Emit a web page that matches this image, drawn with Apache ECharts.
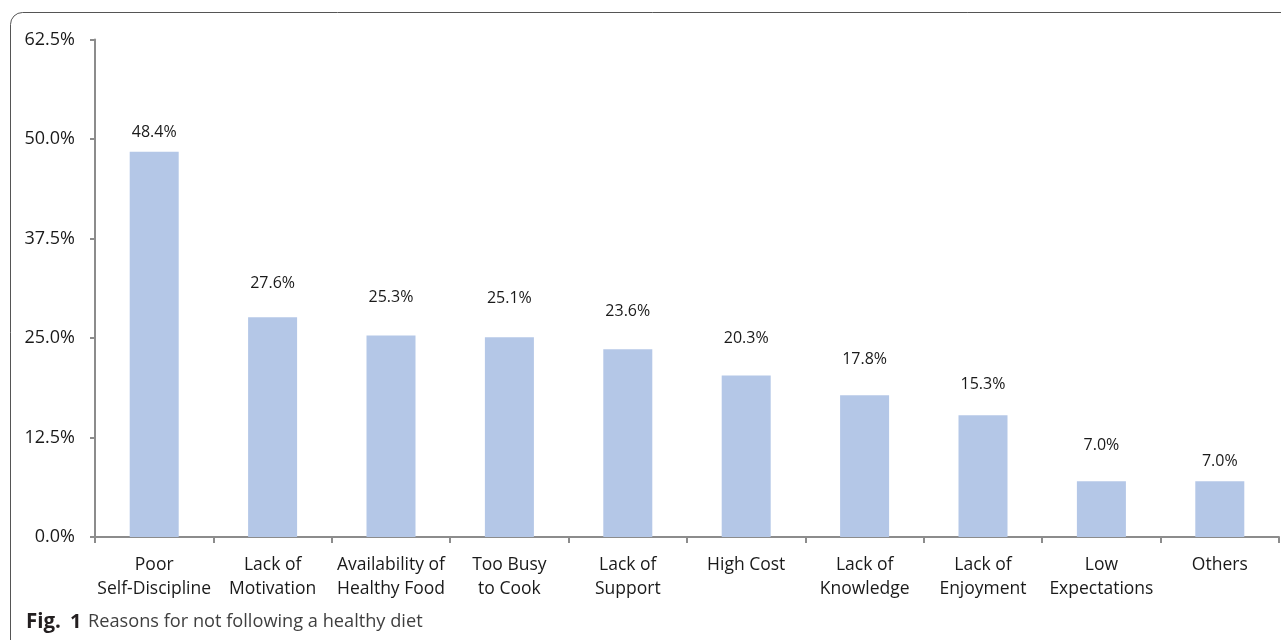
<!DOCTYPE html>
<html><head><meta charset="utf-8">
<script src="https://cdn.jsdelivr.net/npm/echarts@6/dist/echarts.min.js"></script>
<style>html,body{margin:0;padding:0;background:#fff}#c{width:1281px;height:640px}</style>
</head><body><div id="c"></div>
<script>
const categories = ["Poor\nSelf-Discipline","Lack of\nMotivation","Availability of\nHealthy Food","Too Busy\nto Cook","Lack of\nSupport","High Cost","Lack of\nKnowledge","Lack of\nEnjoyment","Low\nExpectations","Others"];
const values = [48.4,27.6,25.3,25.1,23.6,20.3,17.8,15.3,7.0,7.0];
const yTicks = [0,12.5,25,37.5,50,62.5];

// label gaps above bars as placed in the original figure (styling only)
const labelGaps = [20,35,39,40,39,38,37,32,37,21];

const chart = echarts.init(document.getElementById('c'), null, {renderer:'canvas'});
const font = '"Open Sans", "Noto Sans", sans-serif';
chart.setOption({
  animation:false,
  grid:{left:95,right:2,top:39.5,bottom:103,containLabel:false},
  graphic:[
    {type:'rect',shape:{x:10.5,y:12.5,width:1400,height:800,r:12},style:{fill:'none',stroke:'#555',lineWidth:1},z:-1},
    {type:'text',x:26,y:622,style:{text:'Fig.',verticalAlign:'middle',fontFamily:font,fontWeight:'bold',fontSize:20.5,fill:'#231f20'}},
    {type:'text',x:70,y:622,style:{text:'1',verticalAlign:'middle',fontFamily:font,fontWeight:'bold',fontSize:20,fill:'#231f20'}},
    {type:'text',x:88,y:622,style:{text:'Reasons for not following a healthy diet',verticalAlign:'middle',fontFamily:font,fontSize:18.2,fill:'#3f3f3f'}}
  ],
  xAxis:{type:'category',data:categories,
    axisLine:{lineStyle:{color:'#8c8c8c',width:2}},
    axisTick:{show:true,length:6,lineStyle:{color:'#8c8c8c',width:2}},
    axisLabel:{interval:0,margin:16,fontFamily:font,fontSize:17.5,color:'#1a1a1a',lineHeight:24}
  },
  yAxis:{type:'value',min:yTicks[0],max:yTicks[yTicks.length-1],interval:12.5,
    axisLine:{show:true,lineStyle:{color:'#8c8c8c',width:2}},
    axisTick:{show:true,length:5,lineStyle:{color:'#8c8c8c',width:2}},
    splitLine:{show:false},
    axisLabel:{margin:20,fontFamily:font,fontSize:18,color:'#1a1a1a',formatter:v=>v.toFixed(1)+'%'}
  },
  series:[{type:'bar',barWidth:49,itemStyle:{color:'#b4c7e7'},
    data:values.map((v,i)=>({value:v,label:{distance:labelGaps[i]-9}})),
    label:{show:true,position:'top',fontFamily:font,fontSize:16,color:'#1a1a1a',formatter:p=>p.value.toFixed(1)+'%'}}]
});
</script></body></html>
